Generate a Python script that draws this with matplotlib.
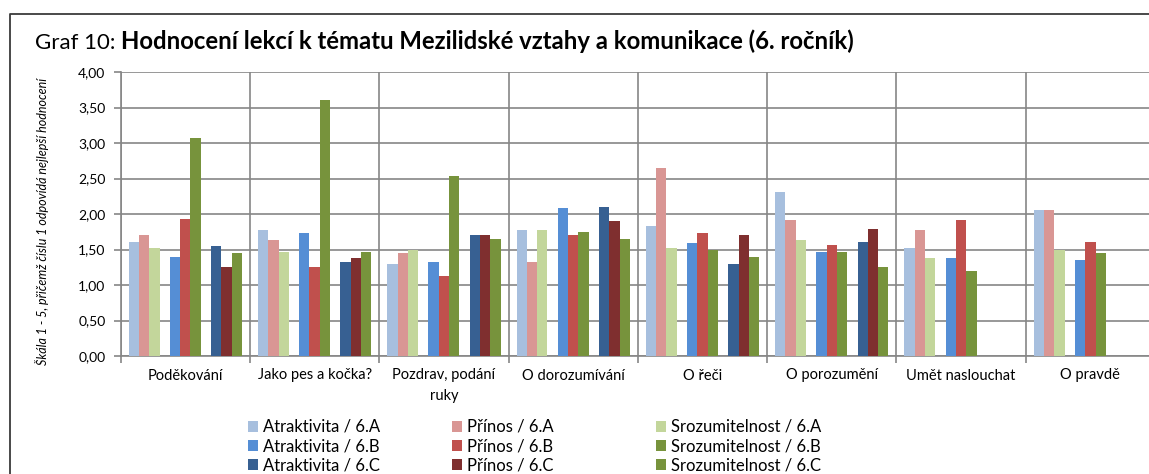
import numpy as np
import matplotlib
matplotlib.use("Agg")
import matplotlib.pyplot as plt
from matplotlib.lines import Line2D
from matplotlib.patches import Patch

plt.rcParams['font.family'] = ['Lato', 'DejaVu Sans']

categories = ["Poděkování", "Jako pes a kočka?", "Pozdrav, podání\nruky", "O dorozumívání",
              "O řeči", "O porozumění", "Umět naslouchat", "O pravdě"]

atr_6A = [1.61, 1.78, 1.29, 1.78, 1.83, 2.31, 1.52, 2.05]
pri_6A = [1.70, 1.63, 1.45, 1.32, 2.65, 1.91, 1.77, 2.05]
sro_6A = [1.52, 1.46, 1.49, 1.78, 1.52, 1.63, 1.38, 1.50]
atr_6B = [1.40, 1.73, 1.32, 2.09, 1.59, 1.47, 1.38, 1.35]
pri_6B = [1.93, 1.26, 1.12, 1.70, 1.73, 1.56, 1.91, 1.60]
sro_6B = [3.07, 3.60, 2.53, 1.74, 1.50, 1.47, 1.20, 1.45]
atr_6C = [1.55, 1.32, 1.70, 2.10, 1.30, 1.60, None, None]
pri_6C = [1.26, 1.38, 1.70, 1.90, 1.70, 1.79, None, None]
sro_6C = [1.45, 1.47, 1.65, 1.65, 1.39, 1.25, None, None]

series_labels = ["Atraktivita / 6.A", "Přínos / 6.A", "Srozumitelnost / 6.A",
                 "Atraktivita / 6.B", "Přínos / 6.B", "Srozumitelnost / 6.B",
                 "Atraktivita / 6.C", "Přínos / 6.C", "Srozumitelnost / 6.C"]
series_values = [atr_6A, pri_6A, sro_6A, atr_6B, pri_6B, sro_6B, atr_6C, pri_6C, sro_6C]
colors = ["#A7BFDE", "#D99694", "#C3D69B",
          "#558ED5", "#C0504D", "#77933C",
          "#376092", "#7F2F2F", "#77933C"]
slots = [0, 1, 2, 4, 5, 6, 8, 9, 10]

W, H = 1149, 474
fig = plt.figure(figsize=(W / 100, H / 100), dpi=100)
fig.patch.set_facecolor("white")

ax_left, ax_right, ax_top, ax_bot = 120.7, 1155.0, 72.0, 356.0
ax = fig.add_axes([ax_left / W, 1 - ax_bot / H, (ax_right - ax_left) / W, (ax_bot - ax_top) / H])

w = 0.0797
x = np.arange(len(categories))
handles = []
for lab, vals, col, s in zip(series_labels, series_values, colors, slots):
    xs = [xi + (s - 5) * w for xi, v in zip(x, vals) if v is not None]
    vs = [v for v in vals if v is not None]
    ax.bar(xs, vs, width=w, color=col, edgecolor="none", zorder=3)
    handles.append(Patch(facecolor=col, edgecolor="none", label=lab))

grid_c = "#868686"
ax.set_xlim(-0.5, len(categories) - 0.5)
ax.set_ylim(0, 4.0)
ax.set_yticks(np.arange(0, 4.01, 0.5))
ax.set_yticklabels([f"{v:.2f}".replace(".", ",") for v in np.arange(0, 4.01, 0.5)])
ax.set_xticks(x)
ax.set_xticklabels(categories, linespacing=1.55)
ax.set_xticks(np.arange(-0.5, len(categories), 1.0), minor=True)
ax.grid(True, axis="y", which="major", color=grid_c, linewidth=1.2, zorder=0)
ax.grid(True, axis="x", which="minor", color=grid_c, linewidth=1.2, zorder=0)
ax.grid(False, axis="x", which="major")
ax.tick_params(axis="x", which="major", length=0, pad=9, labelsize=10.5, colors="black")
ax.tick_params(axis="x", which="minor", length=5, color=grid_c, width=1.2)
ax.tick_params(axis="y", length=5, color=grid_c, width=1.2, labelsize=10, pad=6)
for sp in ["top", "right"]:
    ax.spines[sp].set_visible(False)
for sp in ["left", "bottom"]:
    ax.spines[sp].set_color(grid_c)
    ax.spines[sp].set_linewidth(1.2)
ax.set_axisbelow(True)

fig.text(42 / W, 1 - 221 / H, "Škála 1 - 5, přičemž číslu 1 odpovídá nejlepší hodnocení",
         rotation=90, ha="center", va="center", fontsize=9, style="italic")

# outer border (cropped chart frame)
fig.add_artist(Line2D([10 / W, 10 / W, 1.0], [0.0, 1 - 14 / H, 1 - 14 / H],
                      transform=fig.transFigure, color="#3a3a3a", linewidth=1.3))

# title
t1 = fig.text(35 / W, 1 - 49 / H, "Graf 10: ", fontsize=16, va="baseline", ha="left")
fig.canvas.draw()
r = fig.canvas.get_renderer()
bb = t1.get_window_extent(renderer=r)
fig.text(bb.x1 / W, 1 - 49 / H,
         "Hodnocení lekcí k tématu Mezilidské vztahy a komunikace (6. ročník)",
         fontsize=17.2, fontweight="bold", va="baseline", ha="left")

# legend in three columns
col_x = [248, 452, 656]
for ci in range(3):
    hs = [handles[3 * k + ci] for k in range(3)]
    fig.legend(handles=hs, loc="upper left", bbox_to_anchor=(col_x[ci] / W, 1 - 419 / H),
               frameon=False, fontsize=12, handlelength=0.62, handleheight=0.62,
               handletextpad=0.3, labelspacing=0.2, borderpad=0, borderaxespad=0)

fig.savefig("out.png", dpi=100)
